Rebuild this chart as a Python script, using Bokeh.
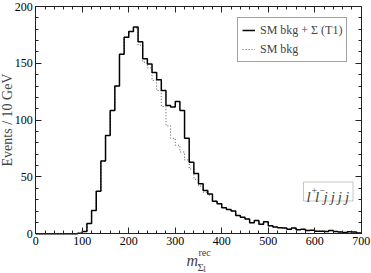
from bokeh.plotting import figure
from bokeh.models import (Legend, LegendItem, Label, LinearAxis, BoxAnnotation,
                          FixedTicker, Range1d, CustomJSTickFormatter)
from bokeh.embed import file_html
from bokeh.resources import INLINE

# ---- data: events per 10 GeV bin (left bin edges 0..690) ----
bin_edges = list(range(0, 710, 10))
sm_plus_sigma = [0, 0, 0, 0, 0, 0, 0, 0, 0, 0.4,
                 2, 9, 20.5, 37.5, 64, 86.5, 108.5, 130, 158, 173,
                 178, 182, 169, 154, 149.5, 142, 135.5, 126, 113, 111.5,
                 116.5, 108.5, 84, 63, 53, 44, 38, 35, 28.7, 26.4,
                 23, 21.4, 20, 16, 14.5, 13, 9.7, 11.7, 8.5, 10.5,
                 7, 6, 5.4, 5, 4, 5, 3.5, 4, 3, 3.2,
                 2.3, 2.3, 2, 3, 2, 1.5, 1.2, 1.8, 1.5, 0.6]
sm_bkg = [0, 0, 0, 0, 0, 0, 0, 0, 0, 0.4,
          2, 9, 20.5, 37.5, 64, 86.5, 108.5, 130, 158, 173,
          178, 181, 166, 151, 146, 135, 126, 112, 95, 84,
          78, 72, 65, 57, 48, 42, 36.5, 34, 28.7, 26.4,
          23, 21.4, 20, 16, 14.5, 13, 9.7, 11.7, 8.5, 10.5,
          7, 6, 5.4, 5, 4, 5, 3.5, 4, 3, 3.2,
          2.3, 2.3, 2, 3, 2, 1.5, 1.2, 1.8, 1.5, 0.6]
x_limits = (0, 700)
y_limits = (0, 200)
x_major_ticks = [0, 100, 200, 300, 400, 500, 600, 700]
x_minor_ticks = list(range(0, 701, 20))
y_major_ticks = [0, 50, 100, 150, 200]
y_minor_ticks = list(range(0, 201, 10))
legend_labels = ["SM bkg + \u03a3 (T1)", "SM bkg"]
y_title = "Events / 10 GeV"

FONT = "Liberation Serif"
EDGE = "#222222"
W, H = 371, 273
# plot box position on the canvas (pixels): left, right, top, bottom
BOX_L, BOX_R, BOX_T, BOX_B = 35.3, 360.7, 6.0, 233.3

# ranges chosen so that the data limits land on the box edges
xpx = (BOX_R - BOX_L) / (x_limits[1] - x_limits[0])
ypx = (BOX_B - BOX_T) / (y_limits[1] - y_limits[0])
x_range = Range1d(x_limits[0] - BOX_L / xpx, x_limits[1] + (W - BOX_R) / xpx)
y_range = Range1d(y_limits[0] - (H - BOX_B) / ypx, y_limits[1] + BOX_T / ypx)

p = figure(width=W, height=H, x_range=x_range, y_range=y_range,
           output_backend="svg", toolbar_location=None, min_border=0)
p.grid.visible = False
p.outline_line_color = None
p.background_fill_color = "white"
p.border_fill_color = "white"

def style_axis(ax, show_labels, fixed, bounds, ticks, minor):
    ax.fixed_location = fixed
    ax.bounds = bounds
    ax.ticker = FixedTicker(ticks=ticks, minor_ticks=minor)
    ax.major_tick_in = 6
    ax.major_tick_out = 0
    ax.minor_tick_in = 3
    ax.minor_tick_out = 0
    ax.axis_line_color = EDGE
    ax.axis_line_width = 1
    ax.major_tick_line_color = EDGE
    ax.minor_tick_line_color = EDGE
    ax.major_label_text_font = FONT
    ax.major_label_text_color = "black"
    ax.major_label_text_font_size = "12px"
    ax.major_label_standoff = 3
    if not show_labels:
        ax.formatter = CustomJSTickFormatter(code="return ''")
        ax.major_label_standoff = 0

style_axis(p.xaxis[0], True, y_limits[0], x_limits, x_major_ticks, x_minor_ticks)
style_axis(p.yaxis[0], True, x_limits[0], y_limits, y_major_ticks, y_minor_ticks)
p.yaxis.axis_label = y_title
p.yaxis.axis_label_text_font = FONT
p.yaxis.axis_label_text_font_style = "normal"
p.yaxis.axis_label_text_font_size = "14px"
p.yaxis.axis_label_standoff = -3

top_ax = LinearAxis()
right_ax = LinearAxis()
style_axis(top_ax, False, y_limits[1], x_limits, x_major_ticks, x_minor_ticks)
style_axis(right_ax, False, x_limits[1], y_limits, y_major_ticks, y_minor_ticks)
p.add_layout(top_ax, "above")
p.add_layout(right_ax, "right")

r_bkg = p.step(x=bin_edges, y=sm_bkg + [sm_bkg[-1]], mode="after",
               line_color="#555555", line_width=1, line_dash="1 2")
r_sig = p.step(x=bin_edges, y=sm_plus_sigma + [sm_plus_sigma[-1]], mode="after",
               line_color="black", line_width=1.5)

legend = Legend(items=[LegendItem(label=legend_labels[0], renderers=[r_sig]),
                       LegendItem(label=legend_labels[1], renderers=[r_bkg])],
                location=(237, H - 62.3), label_text_font=FONT, label_text_font_size="12px",
                glyph_width=13, glyph_height=16, label_standoff=5, label_height=16,
                padding=4, spacing=3, margin=0,
                border_line_color="#444444", border_line_width=1,
                background_fill_alpha=1)
p.add_layout(legend, "center")

# channel box  l+ l- jjjj   (canvas pixels, y measured upward from the bottom)
p.add_layout(BoxAnnotation(left=303, right=352.5, bottom=H - 200.5, top=H - 181.5,
                           left_units="screen", right_units="screen",
                           top_units="screen", bottom_units="screen",
                           fill_color="white", fill_alpha=1,
                           line_color="#444444", line_width=1))
chan_parts = [("l", 306.0, H - 196, "15px", "italic"),
              ("+", 311.0, H - 189.5, "10px", "normal"),
              ("l", 314.5, H - 196, "15px", "italic"),
              ("\u2212", 319.0, H - 189.5, "10px", "normal"),
              ("j\u2009j\u2009j\u2009j", 323.0, H - 196, "15px", "italic")]
for txt, sx, sy, fs, st in chan_parts:
    p.add_layout(Label(x=sx, y=sy, x_units="screen", y_units="screen", text=txt,
                       text_font=FONT, text_font_style=st, text_font_size=fs,
                       text_align="left", text_baseline="alphabetic"))

# x axis title m^{rec}_{Sigma_1}
title_parts = [("m", 186.0, H - 260.0, "16px", "italic"),
               ("rec", 198.0, H - 251.7, "10px", "normal"),
               ("\u03a3", 197.0, H - 266.5, "11px", "normal"),
               ("1", 202.0, H - 268.5, "8px", "normal")]
for txt, sx, sy, fs, st in title_parts:
    p.add_layout(Label(x=sx, y=sy, x_units="screen", y_units="screen", text=txt,
                       text_font=FONT, text_font_style=st, text_font_size=fs,
                       text_align="left", text_baseline="alphabetic"))

open("out.html", "w").write(file_html(p, INLINE))
